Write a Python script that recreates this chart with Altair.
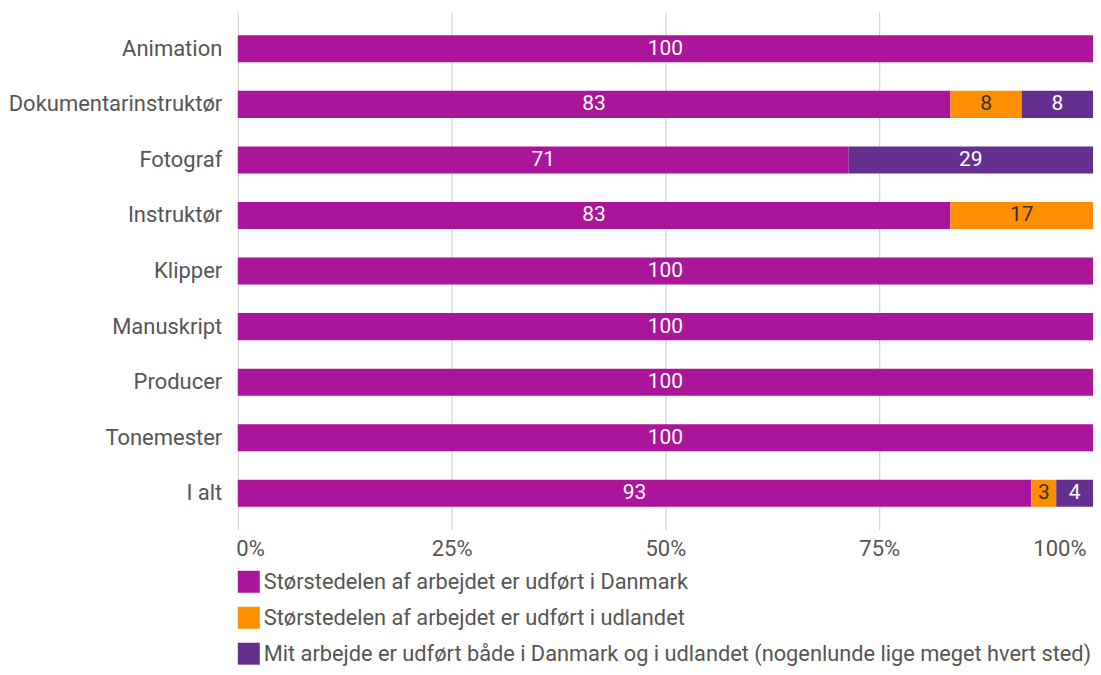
import altair as alt
import pandas as pd

categories = ["Animation", "Dokumentarinstruktør", "Fotograf", "Instruktør", "Klipper",
              "Manuskript", "Producer", "Tonemester", "I alt"]
series = ["Størstedelen af arbejdet er udført i Danmark",
          "Størstedelen af arbejdet er udført i udlandet",
          "Mit arbejde er udført både i Danmark og i udlandet (nogenlunde lige meget hvert sted)"]
danmark = [100, 83.33, 71.43, 83.33, 100, 100, 100, 100, 92.8]
udlandet = [0, 8.33, 0, 16.67, 0, 0, 0, 0, 2.9]
begge = [0, 8.34, 28.57, 0, 0, 0, 0, 0, 4.3]
colors = ["#ab1599", "#ff8f00", "#652f8f"]
x_ticks = [0, 25, 50, 75, 100]

rows = []
for i, c in enumerate(categories):
    for j, (s, vals) in enumerate(zip(series, [danmark, udlandet, begge])):
        rows.append({"kategori": c, "serie": s, "ord": j, "v": vals[i]})
df = pd.DataFrame(rows)

FONT = "Roboto"

base = alt.Chart(df).transform_filter("datum.v > 0").transform_stack(
    stack="v", groupby=["kategori"], as_=["v0", "v1"],
    sort=[alt.SortField("ord", order="ascending")]
).transform_calculate(
    mid="(datum.v0 + datum.v1) / 2",
    lbl="format(datum.v, '.0f')"
)

yenc = alt.Y("kategori:N", sort=categories, title=None,
             scale=alt.Scale(paddingInner=0.513, paddingOuter=0.414),
             axis=alt.Axis(domain=False, ticks=False, labelPadding=16,
                           labelFont=FONT, labelFontSize=22, labelColor="#555555",
                           labelLimit=400))

xaxis = alt.Axis(
    values=x_ticks, labelExpr="datum.value + '%'",
    domain=False, ticks=False, grid=True, gridColor="#cccccc",
    labelFont=FONT, labelFontSize=22, labelColor="#555555",
    labelPadding=9, labelFlush=False,
    labelAlign={"condition": [{"test": "datum.value == 0", "value": "left"},
                              {"test": "datum.value == 100", "value": "right"}],
                "value": "center"},
    labelOffset={"condition": [{"test": "datum.value == 0", "value": -2},
                               {"test": "datum.value == 100", "value": -7}],
                 "value": 0},
)

bars = base.mark_bar().encode(
    y=yenc,
    x=alt.X("v0:Q", scale=alt.Scale(domain=[0, 100]), title=None, axis=xaxis),
    x2="v1:Q",
    color=alt.Color("serie:N", scale=alt.Scale(domain=series, range=colors), title=None,
                    legend=alt.Legend(orient="none", legendX=0, legendY=559,
                                      direction="vertical", symbolType="square",
                                      symbolSize=484, symbolStrokeWidth=0,
                                      symbolOpacity=1, labelFont=FONT, labelFontSize=21.8,
                                      labelColor="#555555", labelLimit=900,
                                      labelOffset=4, rowPadding=13, padding=0)),
    order=alt.Order("ord:Q"),
)

texts = base.mark_text(font=FONT, fontSize=21, baseline="middle", align="center").encode(
    y=alt.Y("kategori:N", sort=categories),
    x=alt.X("mid:Q"),
    text="lbl:N",
    color=alt.condition("datum.ord == 1", alt.value("#333333"), alt.value("#ffffff")),
)

chart = alt.layer(bars, texts).properties(
    width=856, height=518,
    padding={"left": 230, "top": 4, "right": 0, "bottom": 141},
    autosize=alt.AutoSizeParams(type="none"),
).configure_view(stroke=None).configure_axisY(grid=False)

chart.save("out.html", embed_options={"renderer": "svg", "actions": False})
